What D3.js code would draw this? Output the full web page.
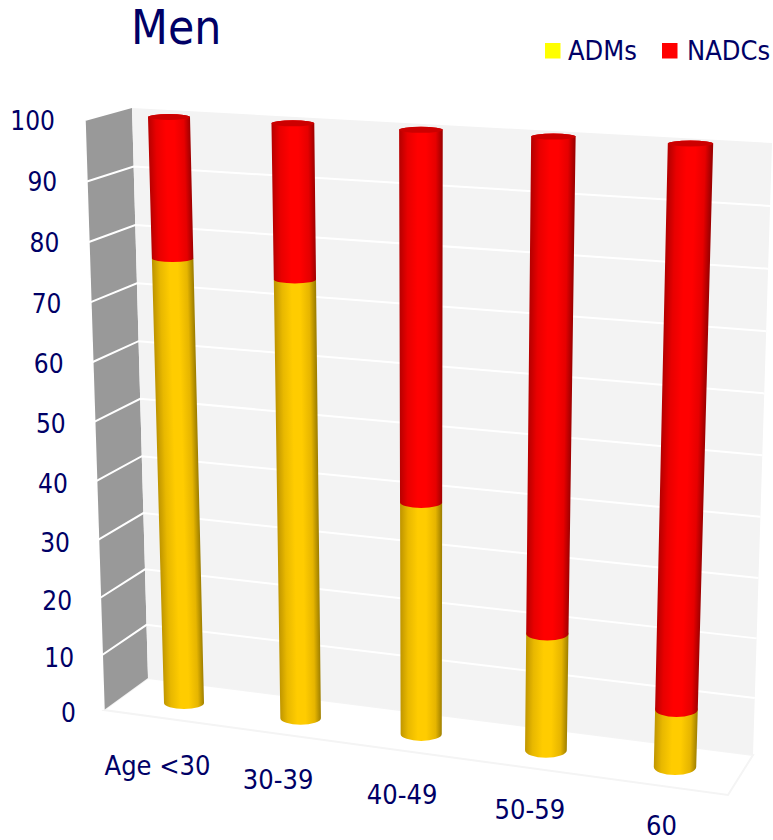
<!DOCTYPE html>
<html>
<head>
<meta charset="utf-8">
<script src="https://cdn.jsdelivr.net/npm/d3@7"></script>
<style>
html, body { margin: 0; padding: 0; background: #fff; }
svg { display: block; }
text { font-family: "DejaVu Sans Condensed", "DejaVu Sans", sans-serif; fill: #000066; }
</style>
</head>
<body>
<svg id="chart" width="773" height="840"></svg>
<script>
// Chart values
const categories = ["Age <30", "30-39", "40-49", "50-59", "60"];
const seriesNames = ["ADMs", "NADCs"];
const seriesColors = ["#ffff00", "#ff0000"];
const admValues = [76.5, 74.4, 39.4, 19.9, 9.9];
const nadcValues = [23.5, 25.6, 60.6, 80.1, 90.1];
const valueTicks = [0, 10, 20, 30, 40, 50, 60, 70, 80, 90, 100];

const svg = d3.select("#chart");
const defs = svg.append("defs");

// Scene geometry: the corners of the box the columns stand in
const wallFront = { bottom: [104, 710], top: [85, 121] };
const wallBack = { bottom: [148, 678], top: [132, 108] };
const backRight = { bottom: [753, 755], top: [772, 143] };
const floorFrontRight = [728, 795];

// Column axes run between these two lines
const columnBase = { from: [184, 703], to: [675, 767] };
const columnTop = { from: [169, 117], to: [690.5, 143.5] };
const labelLine = { from: [157.5, 765], to: [661.5, 825] };

const mix = (a, b, t) => [a[0] + (b[0] - a[0]) * t, a[1] + (b[1] - a[1]) * t];

// Value scale with a touch of foreshortening, shared by walls and columns
const heightScale = d3.scalePow().exponent(1.03).domain([0, 100]).range([0, 1]);
// Category scale, then perspective spacing along a row
const catScale = d3.scalePoint().domain(categories).range([0, 1]);
const spread = (u, r) => u / (u + (1 - u) * r);

const wallLeftAt = v => mix(wallFront.bottom, wallFront.top, heightScale(v));
const wallBackAt = v => mix(wallBack.bottom, wallBack.top, heightScale(v));
const wallRightAt = v => mix(backRight.bottom, backRight.top, heightScale(v));

const polygon = pts => d3.line()(pts) + "Z";

// Floor
svg.append("path")
  .attr("d", polygon([wallFront.bottom, wallBack.bottom, backRight.bottom, floorFrontRight]))
  .attr("fill", "#ffffff").attr("stroke", "#f4f4f4").attr("stroke-width", 2);

// Side wall
svg.append("path")
  .attr("d", polygon([wallFront.bottom, wallFront.top, wallBack.top, wallBack.bottom]))
  .attr("fill", "#999999");

// Back wall
svg.append("path")
  .attr("d", polygon([wallBack.bottom, wallBack.top, backRight.top, backRight.bottom]))
  .attr("fill", "#f3f3f3");

// Gridlines across both walls
const grid = svg.append("g").attr("fill", "none").attr("stroke", "#ffffff").attr("stroke-width", 2);
grid.selectAll("path").data(valueTicks.filter(v => v > 0 && v < 100)).join("path")
  .attr("d", v => d3.line()([wallLeftAt(v), wallBackAt(v), wallRightAt(v)]));
grid.append("path").attr("d", d3.line()([wallFront.bottom, wallFront.top]))
  .attr("stroke-width", 1.5);

// Value labels follow the slanted edge of the side wall
const tickLabelPos = d3.scalePow().exponent(1.035).domain([0, 100]).range([0, 1]);
const tickLabelAt = v => mix([76, 713], [55, 121], tickLabelPos(v));
svg.append("g").selectAll("text").data(valueTicks).join("text")
  .attr("x", v => tickLabelAt(v)[0])
  .attr("y", v => tickLabelAt(v)[1])
  .attr("text-anchor", "end").attr("dominant-baseline", "central")
  .attr("font-size", 26)
  .text(v => v);

// Category labels
const labelAt = c => mix(labelLine.from, labelLine.to, spread(catScale(c), 1.06));
svg.append("g").selectAll("text").data(categories).join("text")
  .attr("x", c => labelAt(c)[0])
  .attr("y", c => labelAt(c)[1])
  .attr("text-anchor", "middle").attr("dominant-baseline", "central")
  .attr("font-size", 27)
  .text(c => c);

// Shading across a cylinder: soft dark rims, bright centre
const shadeStops = {
  adm: [[0, "#c09600"], [0.18, "#e8b800"], [0.42, "#ffcc00"], [0.62, "#ffcc00"], [0.85, "#e6b500"], [1, "#a08000"]],
  nadc: [[0, "#b80000"], [0.18, "#e80000"], [0.42, "#ff0000"], [0.62, "#ff0000"], [0.85, "#e60000"], [1, "#a00000"]]
};

// Geometry of one column cross-section at a given value
function section(cat, v) {
  const u = spread(catScale(cat), 1.07);
  const t = heightScale(v);
  const c = mix(mix(columnBase.from, columnBase.to, u), mix(columnTop.from, columnTop.to, u), t);
  const rx = 20 + u * 1.2 + t * (1 + u * 0.5);
  const ry = (6 + 2 * u) * (1 - t) + 3 * t;
  return { c, rx, ry };
}

// One stacked piece of a column, bulging at its lower end
function segmentPath(lo, hi) {
  return `M${lo.c[0] - lo.rx},${lo.c[1]}` +
    `A${lo.rx},${lo.ry} 0 0 0 ${lo.c[0] + lo.rx},${lo.c[1]}` +
    `L${hi.c[0] + hi.rx},${hi.c[1]}` +
    `A${hi.rx},${hi.ry} 0 0 0 ${hi.c[0] - hi.rx},${hi.c[1]}Z`;
}

const columns = svg.append("g");
categories.forEach((cat, i) => {
  const g = columns.append("g");
  const pieces = [
    { key: "adm", from: 0, to: admValues[i] },
    { key: "nadc", from: admValues[i], to: admValues[i] + nadcValues[i] }
  ];
  pieces.forEach(p => {
    const lo = section(cat, p.from);
    const hi = section(cat, p.to);
    const id = `shade-${p.key}-${i}`;
    // The gradient vector stays square to the column axis
    const dx = hi.c[0] - lo.c[0], dy = hi.c[1] - lo.c[1];
    const len = Math.hypot(dx, dy);
    const nx = -dy / len, ny = dx / len;
    const grad = defs.append("linearGradient").attr("id", id)
      .attr("gradientUnits", "userSpaceOnUse")
      .attr("x1", lo.c[0] - nx * lo.rx).attr("y1", lo.c[1] - ny * lo.rx)
      .attr("x2", lo.c[0] + nx * lo.rx).attr("y2", lo.c[1] + ny * lo.rx);
    grad.selectAll("stop").data(shadeStops[p.key]).join("stop")
      .attr("offset", d => d[0]).attr("stop-color", d => d[1]);
    p.path = segmentPath(lo, hi);
    p.fill = `url(#${id})`;
  });
  // Upper piece last so its rounded end overlaps the piece below
  g.selectAll("path").data(pieces).join("path")
    .attr("d", d => d.path).attr("fill", d => d.fill);
  // Cap on top of the column
  const topSection = section(cat, admValues[i] + nadcValues[i]);
  g.append("ellipse")
    .attr("cx", topSection.c[0]).attr("cy", topSection.c[1])
    .attr("rx", topSection.rx).attr("ry", topSection.ry)
    .attr("fill", "#cc0000");
});

// Title
svg.append("text").attr("x", 131).attr("y", 44)
  .attr("font-size", 47.5).text("Men");

// Legend
const legendPositions = [[545, 568], [662, 687]];
const legend = svg.append("g").selectAll("g").data(seriesNames).join("g");
legend.append("rect")
  .attr("x", (d, i) => legendPositions[i][0]).attr("y", 43)
  .attr("width", 15.5).attr("height", 15.5)
  .attr("fill", (d, i) => seriesColors[i]);
legend.append("text")
  .attr("x", (d, i) => legendPositions[i][1]).attr("y", 60)
  .attr("font-size", 27)
  .text(d => d);
</script>
</body>
</html>
